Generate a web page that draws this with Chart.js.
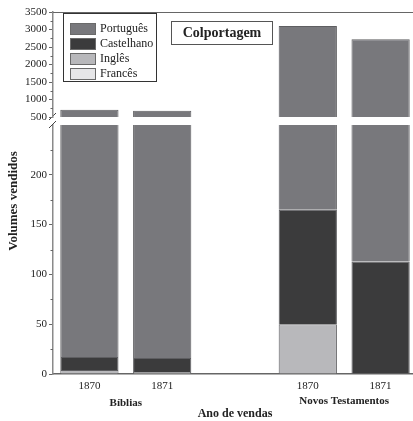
<!DOCTYPE html>
<html>
<head>
<meta charset="utf-8">
<script src="https://cdn.jsdelivr.net/npm/chart.js@4.4.1/dist/chart.umd.min.js"></script>
<style>
  html, body { margin: 0; padding: 0; background: #fff; overflow: hidden; }
  #wrap { position: relative; width: 413px; height: 421px; overflow: hidden; }
  canvas { position: absolute; left: 0; top: 0; }
</style>
</head>
<body>
<div id="wrap">
  <canvas id="low" width="420" height="421"></canvas>
  <canvas id="high" width="420" height="120"></canvas>
</div>
<script>
// data
const years = ['1870', '1871', '', '1870', '1871'];
const groups = ['Bíblias', 'Novos Testamentos'];
const frances = [0, 2, null, 0, 0];
const ingles = [4, 0, null, 50, 0];
const castelhano = [13, 14, null, 115, 113];
const portugues = [693, 664, null, 2935, 2607];
const lowTicks = [0, 250, 50, 25];     // min, max, step, minor step
const highTicks = [500, 3500, 500, 250];

const FONT = 'Liberation Serif';
const INK = '#222';
const AXIS = '#666';

function makeDatasets() {
  return [
    { label: 'Francês', data: frances, backgroundColor: '#e6e6e8' },
    { label: 'Inglês', data: ingles, backgroundColor: '#b8b8bb' },
    { label: 'Castelhano', data: castelhano, backgroundColor: '#3b3b3c' },
    { label: 'Português', data: portugues, backgroundColor: '#78787c' }
  ].map(d => Object.assign(d, {
    borderColor: '#5e5e61', borderWidth: 1, clip: 0,
    barPercentage: 0.8, categoryPercentage: 1.0
  }));
}

// short ticks between the labelled ones
const minorTicks = {
  id: 'minorTicks',
  afterDraw(chart, args, opts) {
    const s = chart.scales.y, ctx = chart.ctx;
    ctx.save();
    ctx.strokeStyle = AXIS; ctx.lineWidth = 1;
    for (let v = opts.min + opts.step; v < opts.max; v += opts.step) {
      if (v % opts.major === 0) continue;
      const y = Math.round(s.getPixelForValue(v)) + 0.5;
      ctx.beginPath(); ctx.moveTo(s.right - 2.5, y); ctx.lineTo(s.right, y); ctx.stroke();
    }
    ctx.restore();
  }
};

function yScale(t, hideTop) {
  return {
    stacked: true, min: t[0], max: t[1],
    ticks: {
      stepSize: t[2], padding: 2, color: INK, font: { family: FONT, size: 11 },
      callback: v => (hideTop && v === t[1]) ? '' : v
    },
    grid: {
      drawOnChartArea: false, tickLength: 4, tickWidth: 1,
      tickColor: c => (hideTop && c.tick && c.tick.value === t[1]) ? 'rgba(0,0,0,0)' : AXIS
    },
    border: { color: '#8a8a8a', width: 1.5 },
    afterFit(s) { s.width = 53; s.paddingTop = 0; s.paddingBottom = 0; }
  };
}

// bottom part: 0 - 250
const lowDecor = {
  id: 'lowDecor',
  afterDraw(chart) {
    const ctx = chart.ctx, x = chart.scales.x, a = chart.chartArea;
    ctx.save();
    ctx.fillStyle = INK;
    ctx.textAlign = 'center'; ctx.textBaseline = 'middle';
    ctx.font = 'bold 11px "' + FONT + '"';
    ctx.fillText(groups[0], (x.getPixelForValue(0) + x.getPixelForValue(1)) / 2, a.bottom + 29);
    ctx.fillText(groups[1], (x.getPixelForValue(3) + x.getPixelForValue(4)) / 2, a.bottom + 27);
    ctx.font = 'bold 12px "' + FONT + '"';
    ctx.fillText('Ano de vendas', (a.left + a.right) / 2, a.bottom + 40);
    ctx.font = 'bold 13px "' + FONT + '"';
    ctx.translate(14, 201);
    ctx.rotate(-Math.PI / 2);
    ctx.fillText('Volumes vendidos', 0, 0);
    ctx.restore();
    // break marks on the value axis
    ctx.save();
    ctx.strokeStyle = '#444'; ctx.lineWidth = 1;
    [[-4, -5, 3, -12], [-4, 3, 3, -4]].forEach(p => {
      ctx.beginPath();
      ctx.moveTo(a.left + p[0], a.top + p[1]);
      ctx.lineTo(a.left + p[2], a.top + p[3]);
      ctx.stroke();
    });
    ctx.restore();
  }
};

new Chart(document.getElementById('low'), {
  type: 'bar',
  data: { labels: years, datasets: makeDatasets() },
  options: {
    responsive: false, animation: false,
    layout: { padding: { top: 125, right: 3, left: 0, bottom: 0 } },
    plugins: {
      legend: { display: false }, tooltip: { enabled: false },
      minorTicks: { min: lowTicks[0], max: lowTicks[1], major: lowTicks[2], step: lowTicks[3] }
    },
    scales: {
      x: {
        stacked: true,
        grid: { display: false, drawTicks: false },
        border: { color: AXIS, width: 1.5 },
        ticks: { padding: 6, color: INK, font: { family: FONT, size: 11 } },
        afterFit(s) { s.height = 47; }
      },
      y: yScale(lowTicks, true)
    }
  },
  plugins: [minorTicks, lowDecor]
});

// top part: 500 - 3500, with the legend and the title box
const highDecor = {
  id: 'highDecor',
  afterDraw(chart) {
    const ctx = chart.ctx, a = chart.chartArea;
    ctx.save();
    ctx.strokeStyle = AXIS; ctx.lineWidth = 1;
    ctx.beginPath(); ctx.moveTo(a.left, a.top + 0.5); ctx.lineTo(a.right + 3, a.top + 0.5); ctx.stroke();

    // legend
    const lx = a.left + 10, ly = a.top + 1;
    ctx.fillStyle = '#fff';
    ctx.fillRect(lx, ly, 93, 68);
    ctx.strokeStyle = '#333';
    ctx.strokeRect(lx + 0.5, ly + 0.5, 93, 68);
    ctx.font = '12px "' + FONT + '"';
    ctx.textAlign = 'left'; ctx.textBaseline = 'middle';
    chart.data.datasets.slice().reverse().forEach((d, i) => {
      const cy = ly + 16 + i * 15;
      ctx.fillStyle = d.backgroundColor;
      ctx.fillRect(lx + 7, cy - 6, 26, 12);
      ctx.strokeStyle = '#6a6a6a';
      ctx.strokeRect(lx + 7.5, cy - 5.5, 25, 11);
      ctx.fillStyle = INK;
      ctx.fillText(d.label, lx + 37, cy);
    });

    // title box
    ctx.strokeStyle = '#555';
    ctx.strokeRect(171.5, 21.5, 101, 23);
    ctx.fillStyle = INK;
    ctx.textAlign = 'center';
    ctx.font = 'bold 14px "' + FONT + '"';
    ctx.fillText('Colportagem', 222, 33);
    ctx.restore();
  }
};

new Chart(document.getElementById('high'), {
  type: 'bar',
  data: { labels: years, datasets: makeDatasets() },
  options: {
    responsive: false, animation: false,
    layout: { padding: { top: 12, right: 3, left: 0, bottom: 3 } },
    plugins: {
      legend: { display: false }, tooltip: { enabled: false },
      minorTicks: { min: highTicks[0], max: highTicks[1], major: highTicks[2], step: highTicks[3] }
    },
    scales: {
      x: { stacked: true, display: false },
      y: yScale(highTicks, false)
    }
  },
  plugins: [minorTicks, highDecor]
});
</script>
</body>
</html>
